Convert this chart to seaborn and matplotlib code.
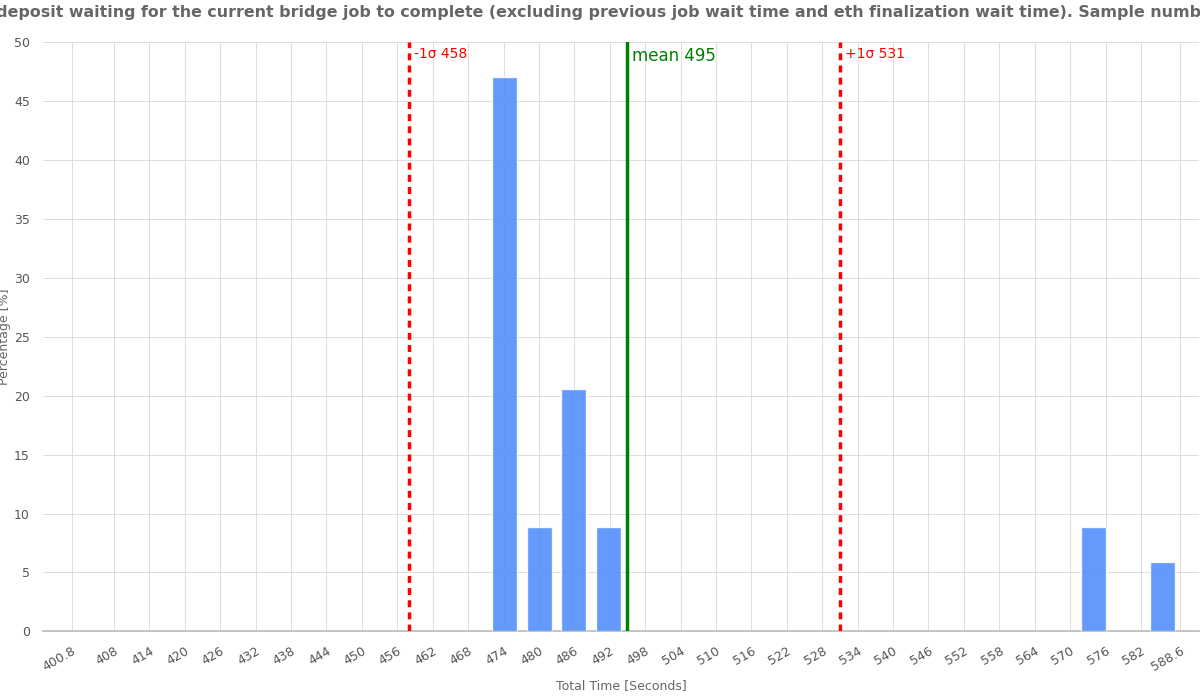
import numpy as np
import seaborn as sns
import matplotlib.pyplot as plt

# histogram bins (34 samples)
bin_lo = 400.8
bin_hi = 588.6
n_bins = 32
bin_index = [12, 13, 14, 15, 29, 31]
percent = [47.06, 8.82, 20.59, 8.82, 8.82, 5.88]
mean_val = 495
minus_sigma = 458
plus_sigma = 531
tick_vals = [400.8] + list(range(408, 583, 6)) + [588.6]
tick_labels = ["400.8"] + [str(v) for v in range(408, 583, 6)] + ["588.6"]

sns.set_theme(style="whitegrid")
plt.rcParams['font.family'] = ['DejaVu Sans']

width = (bin_hi - bin_lo) / n_bins
centers = [bin_lo + width * (k + 0.5) for k in bin_index]

fig, ax = plt.subplots(figsize=(12, 7), dpi=100)
fig.subplots_adjust(left=0.036, right=0.999, top=0.94, bottom=0.098)

ax.bar(centers, percent, width=width * 0.72, color="#4d8cfb", alpha=0.88, zorder=3)

ax.axvline(mean_val, color="green", lw=2.5, zorder=4)
ax.axvline(minus_sigma, color="red", lw=2.5, ls=(0, (2, 1.5)), zorder=4)
ax.axvline(plus_sigma, color="red", lw=2.5, ls=(0, (2, 1.5)), zorder=4)
ax.text(mean_val + 0.8, 49.6, f"mean {mean_val}", color="green", fontsize=12, va="top")
ax.text(minus_sigma + 0.8, 49.6, f"-1σ {minus_sigma}", color="red", fontsize=10, va="top")
ax.text(plus_sigma + 0.8, 49.6, f"+1σ {plus_sigma}", color="red", fontsize=10, va="top")

ax.set_xlim(396.0, 591.8)
ax.set_ylim(0, 50)
ax.set_yticks(range(0, 51, 5))
ax.set_xticks(tick_vals)
ax.set_xticklabels(tick_labels, rotation=30, ha="right", rotation_mode="anchor")
ax.tick_params(colors="#555555", labelsize=9)
ax.grid(color="#dddddd", lw=0.7)
for s in ["top", "right", "left"]:
    ax.spines[s].set_visible(False)
ax.spines["bottom"].set_color("#bbbbbb")

ax.set_xlabel("Total Time [Seconds]", color="#666666", fontsize=9)
ax.set_ylabel("Percentage [%]", color="#666666", fontsize=9, labelpad=2)
fig.suptitle("Time deposit waiting for the current bridge job to complete (excluding previous job wait time and eth finalization wait time). Sample number: 34",
             x=0.5, y=0.993, fontsize=11.4, fontweight="bold", color="#666666")

fig.savefig("out.png")
